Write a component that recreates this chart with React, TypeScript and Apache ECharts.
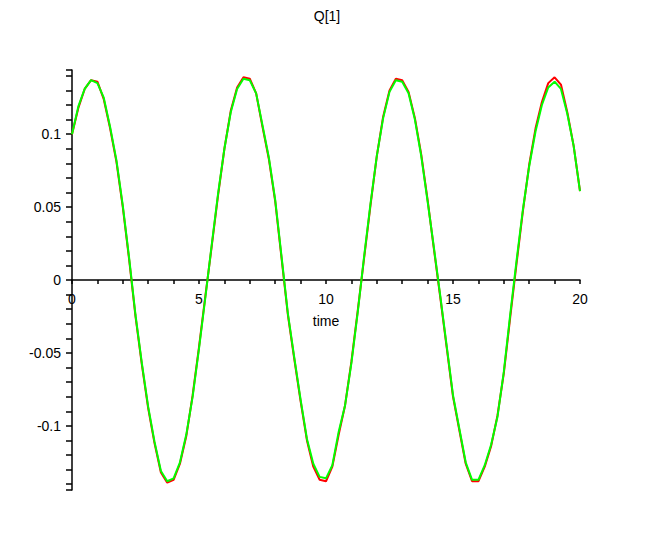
import React, { useEffect, useRef } from "react";
import * as echarts from "echarts";

const times = [0, 0.25, 0.5, 0.75, 1, 1.25, 1.5, 1.75, 2, 2.25, 2.5, 2.75, 3, 3.25, 3.5, 3.75, 4, 4.25, 4.5, 4.75, 5, 5.25, 5.5, 5.75, 6, 6.25, 6.5, 6.75, 7, 7.25, 7.5, 7.75, 8, 8.25, 8.5, 8.75, 9, 9.25, 9.5, 9.75, 10, 10.25, 10.5, 10.75, 11, 11.25, 11.5, 11.75, 12, 12.25, 12.5, 12.75, 13, 13.25, 13.5, 13.75, 14, 14.25, 14.5, 14.75, 15, 15.25, 15.5, 15.75, 16, 16.25, 16.5, 16.75, 17, 17.25, 17.5, 17.75, 18, 18.25, 18.5, 18.75, 19, 19.25, 19.5, 19.75, 20];

const greenQ = [
  0.100, 0.119, 0.131, 0.137, 0.135, 0.125, 0.105, 0.082,
  0.051, 0.015, -0.024, -0.057, -0.087, -0.111, -0.131, -0.138,
  -0.136, -0.125, -0.106, -0.080, -0.047, -0.012, 0.024, 0.059,
  0.090, 0.115, 0.131, 0.138, 0.137, 0.128, 0.106, 0.084,
  0.055, 0.016, -0.023, -0.053, -0.082, -0.109, -0.126, -0.135,
  -0.136, -0.127, -0.104, -0.086, -0.057, -0.022, 0.016, 0.052,
  0.085, 0.111, 0.129, 0.137, 0.136, 0.128, 0.110, 0.085,
  0.054, 0.022, -0.011, -0.045, -0.079, -0.102, -0.125, -0.137,
  -0.137, -0.127, -0.113, -0.094, -0.063, -0.024, 0.013, 0.048,
  0.078, 0.102, 0.120, 0.132, 0.136, 0.131, 0.114, 0.092,
  0.061,
];

const redQ = [
  0.100, 0.118, 0.131, 0.137, 0.136, 0.124, 0.104, 0.081,
  0.050, 0.014, -0.025, -0.058, -0.088, -0.112, -0.132, -0.139,
  -0.137, -0.126, -0.107, -0.079, -0.046, -0.011, 0.023, 0.058,
  0.090, 0.116, 0.132, 0.139, 0.138, 0.128, 0.105, 0.083,
  0.054, 0.015, -0.024, -0.054, -0.083, -0.110, -0.128, -0.137,
  -0.138, -0.128, -0.106, -0.086, -0.056, -0.021, 0.015, 0.051,
  0.085, 0.112, 0.130, 0.138, 0.137, 0.129, 0.111, 0.086,
  0.055, 0.021, -0.012, -0.046, -0.080, -0.103, -0.126, -0.138,
  -0.138, -0.128, -0.114, -0.093, -0.064, -0.026, 0.011, 0.047,
  0.079, 0.104, 0.122, 0.135, 0.139, 0.134, 0.115, 0.092,
  0.061,
];

const xTickLabels = [0, 5, 10, 15, 20];
const xTicks = [0, 1, 2, 3, 4, 5, 6, 7, 8, 9, 10, 11, 12, 13, 14, 15, 16, 17, 18, 19, 20];
const yTickLabels = [-0.1, -0.05, 0, 0.05, 0.1];
const yTicks = [-0.144, -0.14, -0.13, -0.12, -0.11, -0.1, -0.09, -0.08, -0.07, -0.06, -0.05, -0.04, -0.03, -0.02, -0.01, 0, 0.01, 0.02, 0.03, 0.04, 0.05, 0.06, 0.07, 0.08, 0.09, 0.1, 0.11, 0.12, 0.13, 0.14, 0.144];
const yMin = -0.144;
const yMax = 0.144;

const FONT = "Liberation Sans, Arial, Helvetica, sans-serif";
const GRID = { left: 72, right: 74, top: 70, bottom: 55 };
const H = 545;

export default function App() {
  const ref = useRef<HTMLDivElement>(null);
  useEffect(() => {
    document.body.style.margin = "0";
    const chart = echarts.init(ref.current!, null, { renderer: "svg" });
    const plotH = H - GRID.top - GRID.bottom;
    const zeroOffset = -(plotH * (0 - yMin)) / (yMax - yMin);
    chart.setOption({
      animation: false,
      backgroundColor: "#ffffff",
      title: {
        text: "Q[1]",
        left: "center",
        top: 4,
        textStyle: { fontFamily: FONT, fontSize: 14, fontWeight: "normal", color: "#000" },
      },
      grid: GRID,
      xAxis: {
        type: "value",
        min: 0,
        max: 20,
        offset: zeroOffset,
        name: "time",
        nameLocation: "middle",
        nameGap: 34,
        nameTextStyle: { fontFamily: FONT, fontSize: 14, color: "#000" },
        axisLine: { onZero: false, lineStyle: { color: "#000", width: 1.5 } },
        axisTick: { show: true, length: 4, customValues: xTicks, lineStyle: { color: "#000", width: 1.5 } },
        axisLabel: {
          customValues: xTickLabels,
          fontFamily: FONT,
          fontSize: 14,
          color: "#000",
          margin: 12,
          formatter: (v: number) => String(v),
        },
        splitLine: { show: false },
      },
      yAxis: {
        type: "value",
        min: yMin,
        max: yMax,
        axisLine: { onZero: true, lineStyle: { color: "#000", width: 1.5 } },
        axisTick: { show: true, length: 6, customValues: yTicks, lineStyle: { color: "#000", width: 1.5 } },
        axisLabel: {
          customValues: yTickLabels,
          fontFamily: FONT,
          fontSize: 14,
          color: "#000",
          margin: 11,
          formatter: (v: number) => String(v),
        },
        splitLine: { show: false },
      },
      series: [
        {
          type: "line",
          data: times.map((t, i) => [t, redQ[i]]),
          showSymbol: false,
          smooth: false,
          lineStyle: { color: "#ff0000", width: 2 },
          itemStyle: { color: "#ff0000" },
        },
        {
          type: "line",
          data: times.map((t, i) => [t, greenQ[i]]),
          showSymbol: false,
          smooth: false,
          lineStyle: { color: "#00ff00", width: 2 },
          itemStyle: { color: "#00ff00" },
        },
      ],
    });
    return () => chart.dispose();
  }, []);
  return <div ref={ref} style={{ width: 654, height: 545 }} />;
}
